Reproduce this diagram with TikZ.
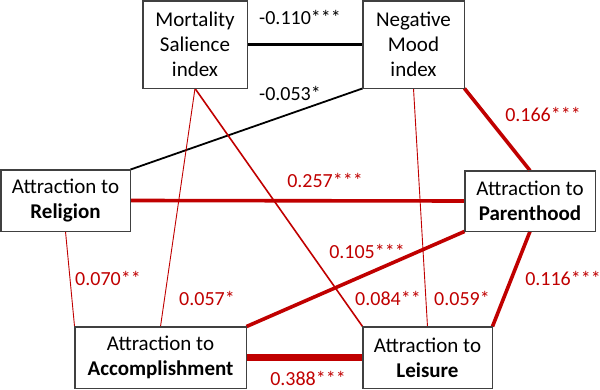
\documentclass[tikz,border=0pt]{standalone}
\usepackage{fontspec}
\setmainfont{Carlito}
\definecolor{dred}{HTML}{C00000}
\definecolor{bordergray}{HTML}{404040}
\begin{document}
\begin{tikzpicture}[x=1pt,y=-1pt,
  box/.style={draw=bordergray,line width=0.9pt,fill=white,align=center,inner sep=0pt,
    font=\fontsize{21}{25}\selectfont},
  lab/.style={font=\fontsize{20}{22}\selectfont,inner sep=0pt},
  rlab/.style={lab,text=dred},
  rthin/.style={draw=dred,line width=0.9pt},
  rmed/.style={draw=dred,line width=1.6pt},
  rthick/.style={draw=dred,line width=3.6pt},
  rvthick/.style={draw=dred,line width=6.5pt},
]
\useasboundingbox (0,0) rectangle (600,390);
% nodes
\node[box,minimum width=104pt,minimum height=87pt] (ms) at (195,44.5) {Mortality\\Salience\\index};
\node[box,minimum width=101pt,minimum height=87pt] (nm) at (413.5,44.5) {Negative\\Mood\\index};
\node[box,minimum width=129pt,minimum height=61pt] (rel) at (65.5,200.5) {Attraction to\\\textbf{Religion}};
\node[box,minimum width=130pt,minimum height=60pt] (par) at (530,201) {Attraction to\\\textbf{Parenthood}};
\node[box,minimum width=171pt,minimum height=61pt] (acc) at (160.5,357.5) {Attraction to\\\textbf{Accomplishment}};
\node[box,minimum width=129pt,minimum height=61pt] (lei) at (427.5,357.5) {Attraction to\\\textbf{Leisure}};
% connectors
\draw[line width=3.8pt] (ms.east) -- (nm.west);
\draw[line width=1.8pt] (nm.south west) -- (rel.north east);
\draw[rthick] (nm.south east) -- (par.north);
\draw[rthick] (rel.east) -- (par.west);
\draw[rthin] (rel.south) -- (acc.north west);
\draw[rthin] (ms.south) -- (acc.north);
\draw[rmed] (ms.south) -- (lei.north west);
\draw[rthin] (nm.south) -- (lei.north);
\draw[rthick] (par.south west) -- (acc.north east);
\draw[rthick] (par.south) -- (lei.north east);
\draw[rvthick] (acc.east) -- (lei.west);
% redraw box borders on top
\foreach \n in {ms,nm,rel,par,acc,lei}{
  \draw[bordergray,line width=0.9pt] (\n.north west) rectangle (\n.south east);
}
% labels
\node[lab] (l1) at (300,17) {-0.110***};
\node[lab] (l2) at (290,93) {-0.053*};
\node[rlab] (l3) at (543,114) {0.166***};
\node[rlab] (l4) at (325,180) {0.257***};
\node[rlab] (l5) at (367,251) {0.105***};
\node[rlab] (l6) at (108,278) {0.070**};
\node[rlab] (l7) at (207,298) {0.057*};
\node[rlab] (l8) at (388,298) {0.084**};
\node[rlab] (l9) at (462,298) {0.059*};
\node[rlab] (l10) at (563,278) {0.116***};
\node[rlab] (l11) at (308,378) {0.388***};
\end{tikzpicture}
\end{document}
